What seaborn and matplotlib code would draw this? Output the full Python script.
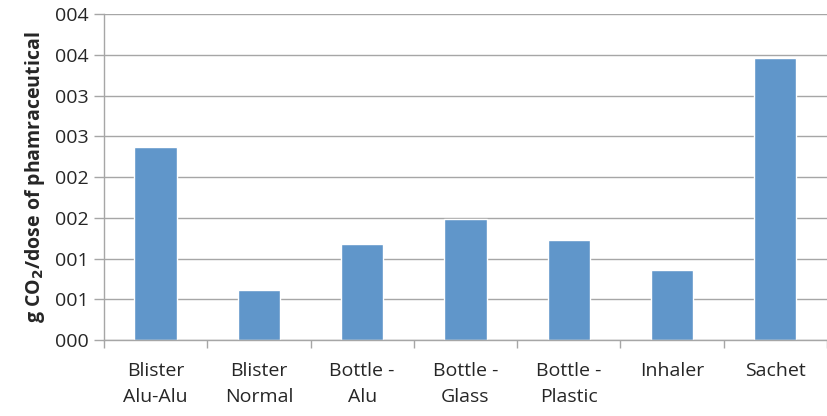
import matplotlib
matplotlib.use("Agg")
import matplotlib.pyplot as plt
import seaborn as sns
import pandas as pd

categories = ["Blister\nAlu-Alu", "Blister\nNormal", "Bottle -\nAlu", "Bottle -\nGlass",
              "Bottle -\nPlastic", "Inhaler", "Sachet"]
values = [0.00237, 0.00061, 0.00118, 0.00148, 0.00123, 0.00086, 0.00346]
yticks = [0, 0.0005, 0.001, 0.0015, 0.002, 0.0025, 0.003, 0.0035, 0.004]
ytick_labels = ["000", "001", "001", "002", "002", "003", "003", "004", "004"]

sns.set_theme(style="white")
plt.rcParams["font.family"] = ["Open Sans", "DejaVu Sans"]

df = pd.DataFrame({"cat": categories, "val": values})
fig = plt.figure(figsize=(8.28, 4.16), dpi=100)
ax = fig.add_axes([0.1256, 0.1827, 0.873, 0.7836])
sns.barplot(data=df, x="cat", y="val", color="#6096CA", width=0.41, ax=ax, saturation=1)

ax.set_ylim(0, 0.004)
ax.set_xlim(-0.5, 6.5)
ax.set_yticks(yticks)
ax.set_yticklabels(ytick_labels, fontsize=14)
ax.grid(axis="y", color="#A6A6A6", linewidth=1)
ax.set_axisbelow(True)
ax.set_xticks([i + 0.5 for i in range(-1, 7)], minor=False)
ax.set_xticklabels([""] * 8)
ax.set_xticks(range(7), minor=True)
ax.set_xticklabels(categories, minor=True, fontsize=14, linespacing=1.55)
ax.tick_params(axis="x", which="major", length=6, color="#A6A6A6", width=1, direction="out", bottom=True)
ax.tick_params(axis="x", which="minor", length=0, pad=16)
ax.tick_params(axis="y", length=7, color="#A6A6A6", width=1, direction="out", left=True, pad=4)
for s in ["top", "right"]:
    ax.spines[s].set_visible(False)
for s in ["left", "bottom"]:
    ax.spines[s].set_color("#A6A6A6")
    ax.spines[s].set_linewidth(1)
ax.set_xlabel("")
ax.set_ylabel(r"g CO$_\mathbf{2}$/dose of phamraceutical", fontsize=14, fontweight="bold", labelpad=6)

fig.savefig("out.png", dpi=100)
